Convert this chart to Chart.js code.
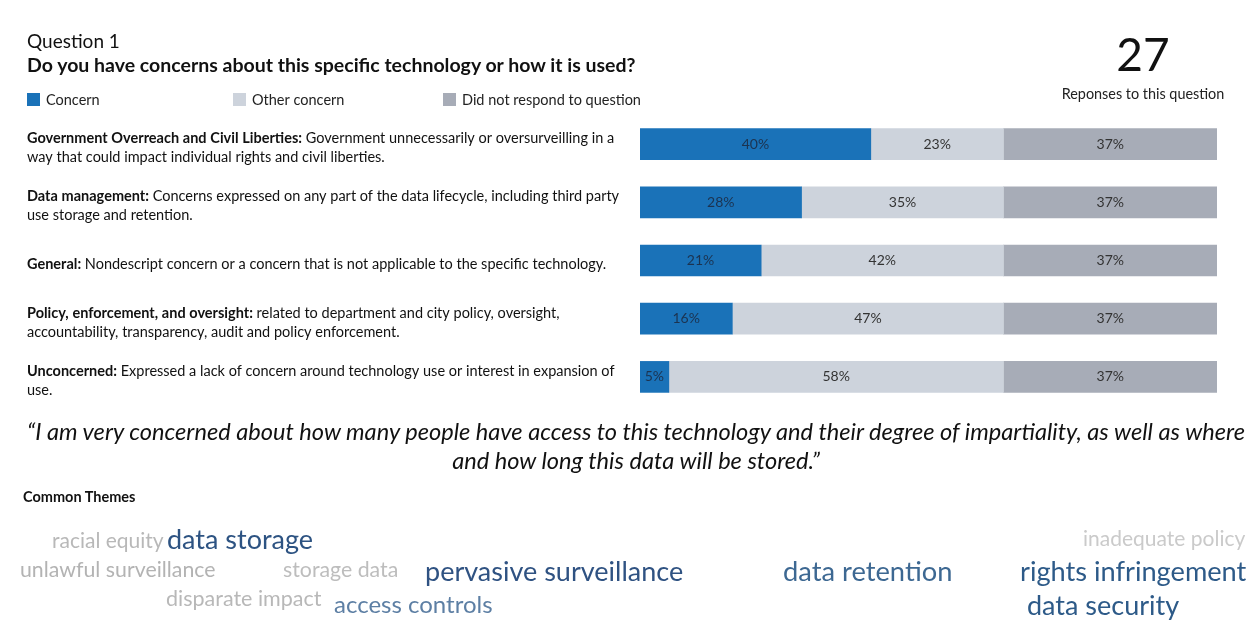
<!DOCTYPE html>
<html>
<head>
<meta charset="utf-8">
<script src="https://cdn.jsdelivr.net/npm/chart.js@4.4.0/dist/chart.umd.min.js"></script>
<style>
  body { margin: 0; background: #fff; font-family: Lato, sans-serif; color: #111; }
  #wrap { position: relative; width: 1256px; height: 620px; overflow: hidden; }
  #chart { position: absolute; left: 0; top: 0; }
  .t { position: absolute; white-space: nowrap; }
  .word { position: absolute; white-space: nowrap; line-height: 1; }
</style>
</head>
<body>
<div id="wrap">
  <canvas id="chart" width="1256" height="620"></canvas>
  <div class="t" style="left:27px;top:29px;font-size:19px;">Question 1</div>
  <div class="t" style="left:27px;top:53px;font-size:19.5px;font-weight:bold;">Do you have concerns about this specific technology or how it is used?</div>
  <div class="t" style="left:1043px;width:200px;text-align:center;top:26px;font-size:46px;">27</div>
  <div class="t" style="left:1043px;width:200px;text-align:center;top:85px;font-size:14.4px;color:#222;">Reponses to this question</div>
  <div class="t" style="left:0;width:1272px;text-align:center;top:417px;font-size:23.6px;font-style:italic;line-height:29px;white-space:normal;">&ldquo;I am very concerned about how many people have access to this technology and their degree of impartiality, as well as where<br>and how long this data will be stored.&rdquo;</div>
  <div class="t" style="left:23px;top:488px;font-size:14.5px;font-weight:bold;">Common Themes</div>
  <div id="cloud"></div>
</div>
<script>
// categories: bold heading + description
var categoryTitles = [
  'Government Overreach and Civil Liberties:',
  'Data management:',
  'General:',
  'Policy, enforcement, and oversight:',
  'Unconcerned:'
];
var categoryDescriptions = [
  'Government unnecessarily or oversurveilling in a way that could impact individual rights and civil liberties.',
  'Concerns expressed on any part of the data lifecycle, including third party use storage and retention.',
  'Nondescript concern or a concern that is not applicable to the specific technology.',
  'related to department and city policy, oversight, accountability, transparency, audit and policy enforcement.',
  'Expressed a lack of concern around technology use or interest in expansion of use.'
];
var seriesNames = ['Concern', 'Other concern', 'Did not respond to question'];
var concernValues = [40, 28, 21, 16, 5];
var otherConcernValues = [23, 35, 42, 47, 58];
var noResponseValues = [37, 37, 37, 37, 37];
var seriesColors = ['#1a72b8', '#cdd3dc', '#a7acb7'];

// word cloud
var themeWords = ['racial equity', 'data storage', 'inadequate policy', 'unlawful surveillance', 'storage data',
  'pervasive surveillance', 'data retention', 'rights infringement', 'disparate impact', 'access controls', 'data security'];
var themeSizes = [21, 27, 21, 21.3, 21.3, 27, 27.3, 27.2, 21.5, 24, 27];
var themeColors = ['#b8b8b8', '#2d5382', '#cacaca', '#b3b3b3', '#bdbdbd', '#2f5282', '#3d6892', '#2d5a88', '#b8b8b8', '#5d7fa4', '#2d5a88'];
var themeX = [52, 167, 1083, 20, 283, 425, 783, 1020, 166, 334, 1027];
var themeY = [529, 525, 527, 559, 559, 557, 557, 557, 588, 592, 591];

var cloud = document.getElementById('cloud');
themeWords.forEach(function(w, i) {
  var d = document.createElement('div');
  d.className = 'word';
  d.textContent = w;
  d.style.left = themeX[i] + 'px';
  d.style.top = themeY[i] + 'px';
  d.style.fontSize = themeSizes[i] + 'px';
  d.style.color = themeColors[i];
  cloud.appendChild(d);
});

var legendX = [27, 233, 443];

// draws the row descriptions (bold heading + wrapped text) and the legend
var sidePlugin = {
  id: 'side',
  afterDraw: function(chart) {
    var c = chart.ctx;
    var y = chart.scales.y;
    var boldFont = 'bold 14.5px Lato, sans-serif';
    var normFont = '14.5px Lato, sans-serif';
    var maxW = 598;
    c.save();
    c.fillStyle = '#111';
    c.textBaseline = 'middle';
    categoryTitles.forEach(function(title, i) {
      var words = [];
      title.split(' ').forEach(function(w) { words.push({ t: w, b: true }); });
      categoryDescriptions[i].split(' ').forEach(function(w) { words.push({ t: w, b: false }); });
      var lines = [[]];
      var lineW = 0;
      words.forEach(function(w) {
        c.font = w.b ? boldFont : normFont;
        var ww = c.measureText(w.t).width;
        c.font = normFont;
        var sp = c.measureText(' ').width;
        var add = lines[lines.length - 1].length ? sp + ww : ww;
        if (lineW + add > maxW && lines[lines.length - 1].length) {
          lines.push([]);
          lineW = ww;
        } else {
          lineW += add;
        }
        lines[lines.length - 1].push(w);
      });
      var cy = y.getPixelForValue(i) + 4;
      var lh = 19;
      var startY = cy - (lines.length - 1) * lh / 2;
      lines.forEach(function(line, li) {
        var x = 27;
        line.forEach(function(w, wi) {
          c.font = normFont;
          if (wi > 0) x += c.measureText(' ').width;
          c.font = w.b ? boldFont : normFont;
          c.fillText(w.t, x, startY + li * lh);
          x += c.measureText(w.t).width;
        });
      });
    });
    // legend
    c.font = '14.5px Lato, sans-serif';
    chart.data.datasets.forEach(function(ds, i) {
      c.fillStyle = ds.backgroundColor;
      c.fillRect(legendX[i], 93, 13, 13);
      c.fillStyle = '#222';
      c.fillText(ds.label, legendX[i] + 19, 100);
    });
    c.restore();
  }
};

// value labels centred in each segment
var valuePlugin = {
  id: 'values',
  afterDatasetsDraw: function(chart) {
    var c = chart.ctx;
    c.save();
    c.font = '14px Lato, sans-serif';
    c.textAlign = 'center';
    c.textBaseline = 'middle';
    chart.data.datasets.forEach(function(ds, di) {
      chart.getDatasetMeta(di).data.forEach(function(bar, i) {
        c.fillStyle = di === 0 ? '#1c3350' : '#333';
        var cx = (bar.x + bar.base) / 2;
        c.fillText(ds.data[i] + '%', cx, bar.y);
      });
    });
    c.restore();
  }
};

new Chart(document.getElementById('chart'), {
  type: 'bar',
  data: {
    labels: categoryTitles,
    datasets: [
      { label: seriesNames[0], data: concernValues, backgroundColor: seriesColors[0] },
      { label: seriesNames[1], data: otherConcernValues, backgroundColor: seriesColors[1] },
      { label: seriesNames[2], data: noResponseValues, backgroundColor: seriesColors[2] }
    ]
  },
  options: {
    indexAxis: 'y',
    responsive: false,
    animation: false,
    layout: { padding: { left: 640, right: 39, top: 115, bottom: 214 } },
    datasets: { bar: { barThickness: 31, borderWidth: 0 } },
    scales: {
      x: { stacked: true, min: 0, max: 100, display: false },
      y: { stacked: true, display: false }
    },
    plugins: { legend: { display: false }, tooltip: { enabled: false } }
  },
  plugins: [sidePlugin, valuePlugin]
});
</script>
</body>
</html>
